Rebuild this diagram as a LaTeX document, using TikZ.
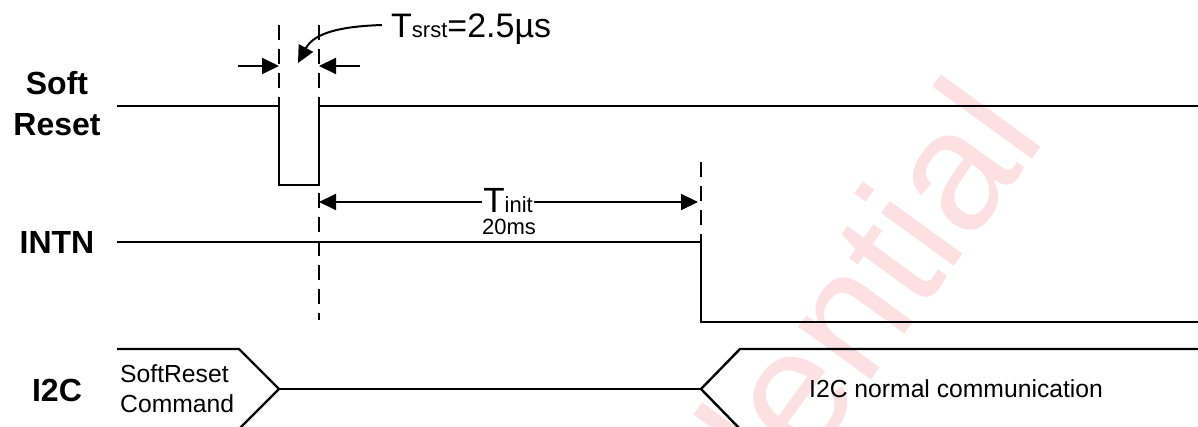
\documentclass[tikz,border=0pt]{standalone}
\usepackage{fontspec}
\setmainfont{Liberation Sans}
\usetikzlibrary{arrows.meta}
\definecolor{wmark}{RGB}{253,224,226}
\begin{document}
\begin{tikzpicture}[x=1pt,y=1pt,
  sig/.style={line width=2.4pt},
  guide/.style={line width=2pt, dash pattern=on 15pt off 9pt},
  tip/.style={-{Triangle[length=17pt,width=16pt]}},
  dimline/.style={line width=2pt},
  siglabel/.style={font=\fontsize{32}{41}\selectfont\bfseries, align=center, inner sep=0pt},
  txt/.style={font=\fontsize{24.7}{30}\selectfont, inner sep=0pt},
  wm/.style={text=wmark, font=\fontsize{170}{170}\selectfont, inner sep=0pt}]
\useasboundingbox (0,0) rectangle (1198,426);
% watermark
\begin{scope}
  \clip (0,0) rectangle (1198,426);
  \node[wm, anchor=base west, rotate=54] (wmtext) at (520,-438) {Confidential};
\end{scope}
% signal labels
\node[siglabel, anchor=base] (lsoft) at (57,331) {Soft};
\node[siglabel, anchor=base] (lreset) at (57,290) {Reset};
\node[siglabel, anchor=base] (lintn) at (57,173) {INTN};
\node[siglabel, anchor=base] (li2c) at (57,25) {I2C};
% coordinates
\coordinate (sr0) at (117,320);
\coordinate (sr1) at (279,320);
\coordinate (sr2) at (279,241);
\coordinate (sr3) at (319,241);
\coordinate (sr4) at (319,320);
\coordinate (sr5) at (1198,320);
\coordinate (in0) at (117,184);
\coordinate (in1) at (701,184);
\coordinate (in2) at (701,104);
\coordinate (in3) at (1198,104);
\coordinate (ia0) at (117,77);
\coordinate (ia1) at (239,77);
\coordinate (ia2) at (279,37);
\coordinate (ia3) at (239,-3);
\coordinate (ib0) at (701,37);
\coordinate (ib1) at (740,77);
\coordinate (ib2) at (1198,77);
\coordinate (ib3) at (740,-3);
% signals
\draw[sig] (sr0) -- (sr1) -- (sr2) -- (sr3) -- (sr4) -- (sr5);
\draw[sig] (in0) -- (in1) -- (in2) -- (in3);
\draw[sig] (ia0) -- (ia1) -- (ia2) -- (ia3);
\draw[sig] (ia2) -- (ib0);
\draw[sig] (ib2) -- (ib1) -- (ib0) -- (ib3);
% guides
\coordinate (g1t) at (279,401);
\coordinate (g2t) at (319,401);
\coordinate (g2b) at (319,106);
\coordinate (g3t) at (701,264);
\draw[guide] (g1t) -- (sr1);
\draw[guide] (g2t) -- (g2b);
\draw[guide] (g3t) -- (in1);
% Tsrst dimension
\coordinate (aL0) at (238,360);
\coordinate (aL1) at (279,360);
\coordinate (aR0) at (360,360);
\coordinate (aR1) at (319,360);
\draw[dimline, tip] (aL0) -- (aL1);
\draw[dimline, tip] (aR0) -- (aR1);
\node[anchor=base west, inner sep=0pt] (tsrst) at (391,388)
  {\fontsize{34}{34}\selectfont T\fontsize{22}{22}\selectfont srst\fontsize{34}{34}\selectfont =2.5µs};
\coordinate (cA) at (382,401);
\coordinate (cB) at (298,363);
\draw[dimline, tip] (cA) to[out=182, in=62] (cB);
% Tinit dimension
\coordinate (ti0) at (319,224);
\coordinate (ti1) at (698,224);
\draw[dimline, {Triangle[length=17pt,width=16pt]}-{Triangle[length=17pt,width=16pt]}] (ti0) -- (ti1);
\node[fill=white, inner sep=1pt, anchor=base] (tinit) at (508,213)
  {\fontsize{35}{35}\selectfont T\fontsize{22}{22}\selectfont init};
\node[anchor=base, inner sep=0pt] (t20) at (509,192) {\fontsize{22}{22}\selectfont 20ms};
% I2C texts
\node[txt, anchor=base west] (cmd1) at (120,44) {SoftReset};
\node[txt, anchor=base west] (cmd2) at (120,14) {Command};
\node[txt, anchor=base west] (norm) at (809,29) {I2C normal communication};
\end{tikzpicture}
\end{document}
